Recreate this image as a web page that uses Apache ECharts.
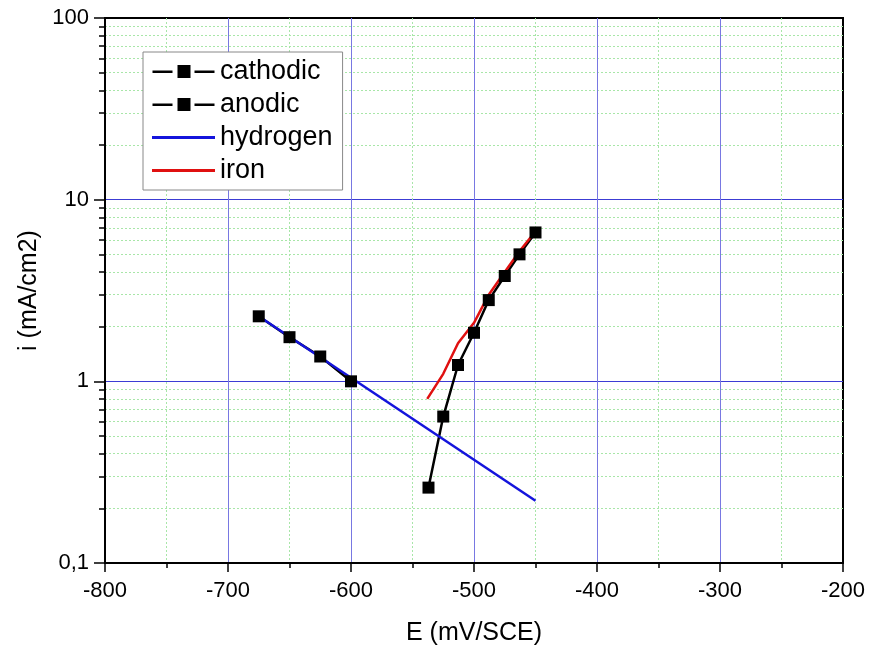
<!DOCTYPE html>
<html>
<head>
<meta charset="utf-8">
<title>Polarisation</title>
<script src="https://cdn.jsdelivr.net/npm/echarts@6/dist/echarts.min.js"></script>
<style>
  html, body { margin: 0; padding: 0; background: #fff; }
  #chart { width: 869px; height: 653px; }
</style>
</head>
<body>
<div id="chart"></div>
<script>
// values (E in mV/SCE, i in mA/cm2)
var cathodicE = [-675, -650, -625, -600];
var cathodicI = [2.28, 1.75, 1.37, 1.0];
var anodicE = [-537, -525, -513, -500, -488, -475, -463, -450];
var anodicI = [0.26, 0.64, 1.23, 1.85, 2.8, 3.8, 5.0, 6.6];
var hydrogenE = [-675, -450];
var hydrogenI = [2.28, 0.22];
var ironE = [-538, -525, -513, -500, -488, -475, -463, -450];
var ironI = [0.80, 1.1, 1.62, 2.1, 3.0, 4.0, 5.2, 6.7];

function pairs(xs, ys) {
    return xs.map(function (x, i) { return [x, ys[i]]; });
}

var font = 'Liberation Sans, Arial, sans-serif';
// legend marks: line - square - line, and plain line
var markIcon = 'path://M0,5.5H20V8H0Z M25,0H38V13H25Z M42,5.5H62V8H42Z';
var lineIcon = 'path://M0,5H62V8H0Z';

var chart = echarts.init(document.getElementById('chart'));
chart.setOption({
    backgroundColor: '#fff',
    animation: false,
    grid: {
        left: 105, right: 26, top: 18, bottom: 90,
        show: true, borderColor: '#000', borderWidth: 2
    },
    legend: {
        left: 143, top: 52,
        orient: 'vertical',
        backgroundColor: '#fff',
        borderColor: '#888',
        borderWidth: 1,
        padding: [6, 10, 6, 9],
        itemWidth: 63,
        itemHeight: 13,
        itemGap: 6,
        textStyle: { fontFamily: font, fontSize: 27, color: '#000' },
        data: [
            { name: 'cathodic', icon: markIcon },
            { name: 'anodic', icon: markIcon },
            { name: 'hydrogen', icon: lineIcon },
            { name: 'iron', icon: lineIcon }
        ]
    },
    xAxis: {
        type: 'value',
        min: -800, max: -200, interval: 100,
        name: 'E (mV/SCE)',
        nameLocation: 'middle',
        nameGap: 58,
        nameTextStyle: { fontFamily: font, fontSize: 25, color: '#000' },
        axisLine: { lineStyle: { color: '#000', width: 2 } },
        axisTick: { length: 9, lineStyle: { color: '#000', width: 1.5 } },
        minorTick: { show: true, splitNumber: 2, length: 5, lineStyle: { color: '#000', width: 1.5 } },
        axisLabel: { fontFamily: font, fontSize: 22, color: '#000', margin: 17 },
        splitLine: { showMinLine: false, showMaxLine: false, lineStyle: { color: '#7878e2', width: 1 } },
        minorSplitLine: { show: true, lineStyle: { color: '#a8e6a8', width: 1, type: [2, 2] } }
    },
    yAxis: {
        type: 'log',
        logBase: 10,
        min: 0.1, max: 100,
        name: 'i (mA/cm2)',
        nameLocation: 'middle',
        nameGap: 56,
        nameTextStyle: { fontFamily: font, fontSize: 25, color: '#000' },
        axisLine: { lineStyle: { color: '#000', width: 2 } },
        axisTick: { length: 11, lineStyle: { color: '#000', width: 1.5 } },
        minorTick: { show: true, splitNumber: 9, length: 6, lineStyle: { color: '#000', width: 1.5 } },
        axisLabel: {
            fontFamily: font, fontSize: 22, color: '#000', margin: 16,
            formatter: function (v) { return String(v).replace('.', ','); }
        },
        splitLine: { showMinLine: false, showMaxLine: false, lineStyle: { color: '#3c3cd4', width: 1 } },
        minorSplitLine: { show: true, lineStyle: { color: '#a8e6a8', width: 1, type: [2, 2] } }
    },
    series: [
        {
            name: 'cathodic', type: 'line',
            data: pairs(cathodicE, cathodicI),
            symbol: 'rect', symbolSize: 12,
            itemStyle: { color: '#000' },
            lineStyle: { color: '#000', width: 2.5 }
        },
        {
            name: 'anodic', type: 'line',
            data: pairs(anodicE, anodicI),
            symbol: 'rect', symbolSize: 12,
            itemStyle: { color: '#000' },
            lineStyle: { color: '#000', width: 2.5 }
        },
        {
            name: 'hydrogen', type: 'line',
            data: pairs(hydrogenE, hydrogenI),
            symbol: 'none',
            itemStyle: { color: '#1414dc' },
            lineStyle: { color: '#1414dc', width: 2.5 }
        },
        {
            name: 'iron', type: 'line',
            data: pairs(ironE, ironI),
            symbol: 'none',
            itemStyle: { color: '#e01010' },
            lineStyle: { color: '#e01010', width: 2.5 }
        }
    ]
});
</script>
</body>
</html>
